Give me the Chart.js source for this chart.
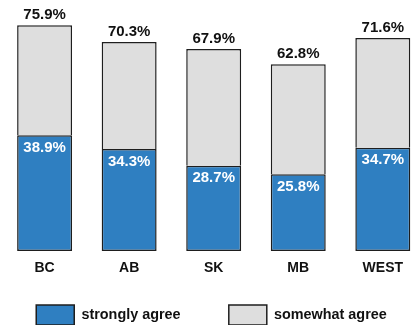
<!DOCTYPE html>
<html>
<head>
<meta charset="utf-8">
<script src="https://cdn.jsdelivr.net/npm/chart.js@4.4.1/dist/chart.umd.min.js"></script>
<style>
  html, body { margin: 0; padding: 0; background: #ffffff; overflow: hidden; }
  #wrap { position: relative; width: 417px; height: 335px; }
</style>
</head>
<body>
<div id="wrap"><canvas id="agreeChart"></canvas></div>
<script>
// Share of respondents who agree, by province
const regions = ['BC', 'AB', 'SK', 'MB', 'WEST'];
const stronglyAgree = [38.9, 34.3, 28.7, 25.8, 34.7];
const totalAgree = [75.9, 70.3, 67.9, 62.8, 71.6];
const seriesNames = ['strongly agree', 'somewhat agree'];

const BLUE = '#2f7fc1';
const GREY = '#dedede';
const EDGE = '#1e1e1e';
const FONT = '"Liberation Sans", Arial, Helvetica, sans-serif';

Chart.defaults.font.family = FONT;

// "somewhat agree" sits on top of "strongly agree": a floating bar from the
// strongly-agree share up to the total share.
const somewhatRanges = stronglyAgree.map((s, i) => [s, totalAgree[i]]);

// Percent labels: totals above each bar, strongly-agree share inside the blue part
const valueLabels = {
  id: 'valueLabels',
  afterDatasetsDraw(chart) {
    const ctx = chart.ctx;
    ctx.save();
    ctx.textAlign = 'center';
    ctx.textBaseline = 'middle';
    ctx.font = 'bold 15px ' + FONT;

    chart.getDatasetMeta(1).data.forEach((bar, i) => {
      ctx.fillStyle = '#111111';
      ctx.fillText(totalAgree[i].toFixed(1) + '%', bar.x, bar.y - 10.5);
    });
    chart.getDatasetMeta(0).data.forEach((bar, i) => {
      ctx.fillStyle = '#ffffff';
      ctx.fillText(stronglyAgree[i].toFixed(1) + '%', bar.x, bar.y + 12.5);
    });
    ctx.restore();
  }
};

const hiddenAxis = (side, width) => ({
  position: side,
  display: true,
  min: 0,
  max: 84.4,
  grid: { display: false, drawTicks: false },
  border: { display: false },
  ticks: { display: false },
  afterFit(scale) { scale.width = width; }
});

const barStyle = {
  borderColor: EDGE,
  borderWidth: 1.5,
  grouped: false,
  clip: false,
  categoryPercentage: 1,
  barPercentage: 0.65,
  yAxisID: 'y'
};

new Chart(document.getElementById('agreeChart'), {
  type: 'bar',
  data: {
    labels: regions,
    datasets: [
      Object.assign({
        label: seriesNames[0],
        data: stronglyAgree,
        backgroundColor: BLUE,
        borderSkipped: false
      }, barStyle),
      Object.assign({
        label: seriesNames[1],
        data: somewhatRanges,
        backgroundColor: GREY,
        borderSkipped: 'bottom'
      }, barStyle)
    ]
  },
  options: {
    responsive: true,
    maintainAspectRatio: false,
    animation: false,
    devicePixelRatio: 1,
    layout: { padding: { left: 6, right: 0, top: 0, bottom: 0 } },
    scales: {
      x: {
        type: 'category',
        offset: false,
        grid: { display: false, drawTicks: false },
        border: { display: false },
        ticks: {
          color: '#111111',
          font: { size: 14, weight: 'bold' },
          padding: 9,
          maxRotation: 0,
          autoSkip: false
        },
        afterFit(scale) { scale.height = 52.5; }
      },
      y: hiddenAxis('left', 38.6),
      yRight: hiddenAxis('right', 34.2)
    },
    plugins: {
      tooltip: { enabled: false },
      title: { display: false },
      legend: {
        position: 'bottom',
        onClick: null,
        labels: {
          boxWidth: 38,
          boxHeight: 20,
          padding: 1.5,
          color: '#111111',
          font: { size: 14.4, weight: 'bold' },
          generateLabels(chart) {
            const items = Chart.defaults.plugins.legend.labels.generateLabels(chart);
            // blank gap item between the two entries
            const gap = {
              text: '',
              fillStyle: 'rgba(0,0,0,0)',
              strokeStyle: 'rgba(0,0,0,0)',
              lineWidth: 0,
              hidden: false,
              datasetIndex: null
            };
            return [items[0], gap, items[1]];
          }
        }
      }
    }
  },
  plugins: [valueLabels]
});
</script>
</body>
</html>
